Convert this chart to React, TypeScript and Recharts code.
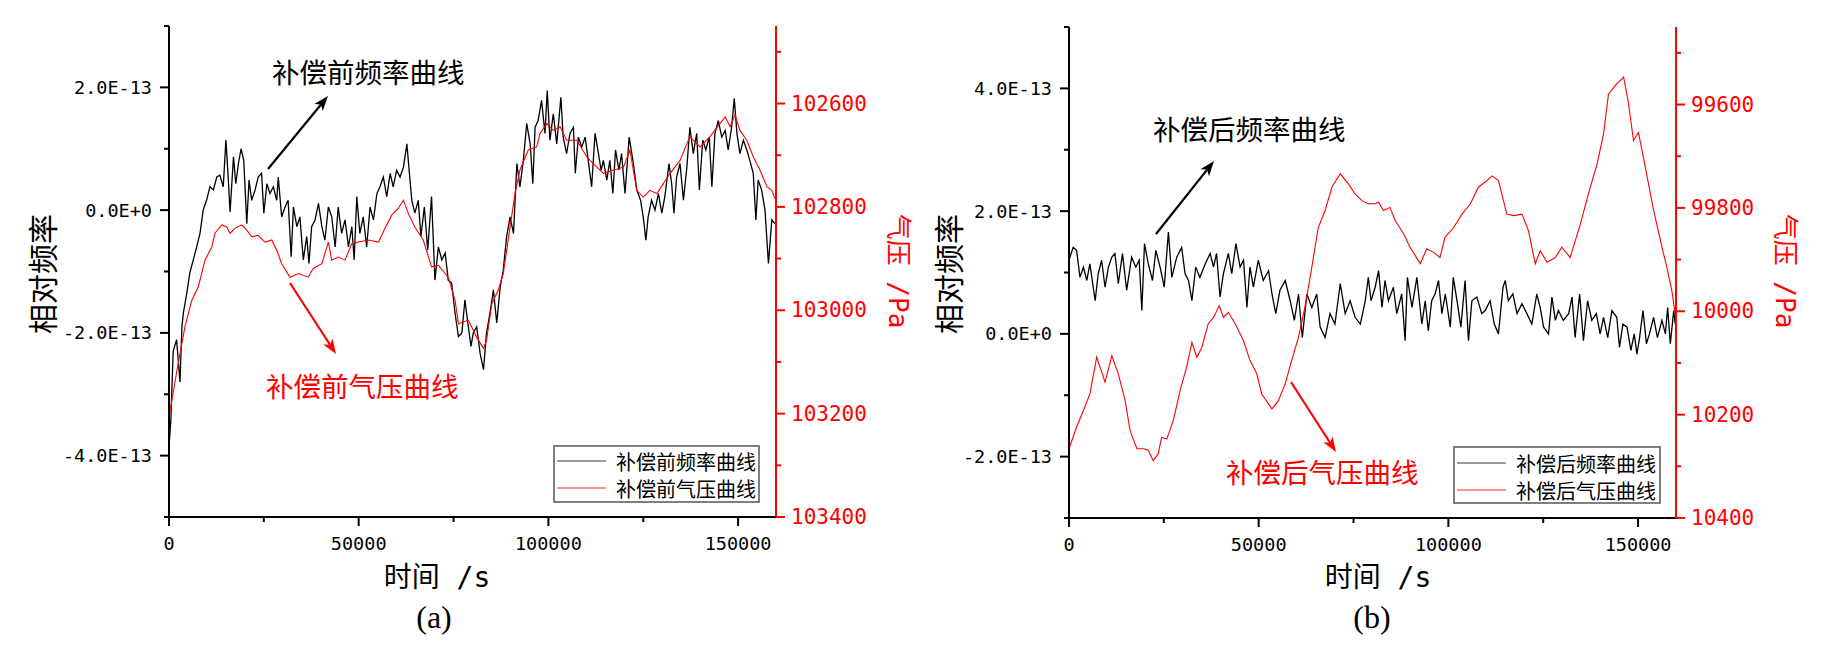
import React from 'react';
import { LineChart, Line, XAxis, YAxis } from 'recharts';

// ---------------- Data (panel a: before compensation) ----------------
const timeFreqA = [0, 500, 1100, 2000, 2900, 3400, 3800, 4700, 5500, 6400,
  7300, 8200, 9000, 9900, 10800, 11700, 12600, 13400, 14300, 15000,
  15600, 16100, 17000, 17600, 18300, 19000, 19700, 20500, 21100, 21800,
  22700, 23500, 24400, 25000, 25800, 26600, 27500, 28400, 28800, 29700,
  30600, 31400, 32200, 32800, 33700, 34500, 35400, 36300, 36900, 37600,
  38500, 39400, 40300, 41100, 42000, 42900, 43800, 44600, 45500, 46400,
  47300, 48200, 48800, 49500, 50300, 51200, 52100, 53000, 53900, 54800,
  55600, 56500, 57400, 58300, 59100, 60000, 60900, 61800, 62700, 63300,
  64000, 64800, 65700, 66400, 67300, 68200, 69200, 70100, 71000, 71900,
  72800, 73600, 74500, 75400, 76300, 77200, 78000, 78900, 79600, 80200,
  81100, 82000, 82900, 83700, 84600, 85500, 86400, 87300, 88100, 89000,
  89900, 90800, 91700, 92500, 93400, 94300, 95200, 95900, 96500, 97300,
  98200, 99100, 99700, 100400, 101300, 102200, 103300, 103900, 104800, 105700,
  106600, 107100, 107900, 108800, 109700, 110500, 111400, 112300, 113200, 113900,
  114500, 115400, 116200, 117000, 117700, 118600, 119300, 120200, 121300, 122400,
  123300, 124300, 125000, 125700, 126300, 127200, 128100, 129000, 129900, 130700,
  131800, 132500, 133100, 133800, 134700, 135600, 136500, 137300, 138200, 139100,
  139800, 140700, 141500, 142400, 143100, 143900, 144800, 145700, 146600, 147400,
  148300, 149000, 149700, 150500, 151400, 152300, 153100, 154000, 154700, 155300,
  156200, 157100, 158000, 158900, 159700];
// relative frequency, in units of 1E-13
const freqA = [-3.87, -3.4, -2.3, -2.11, -2.8, -1.9, -1.67, -1.35, -1.02, -0.81,
  -0.60, -0.37, 0.00, 0.16, 0.38, 0.33, 0.54, 0.57, 0.38, 1.14,
  0.54, -0.03, 0.87, 0.43, 0.76, 1.00, 0.81, -0.22, 0.49, 0.16,
  0.33, 0.54, 0.60, -0.05, 0.43, 0.27, 0.38, 0.16, 0.54, -0.11,
  0.05, 0.16, -0.76, 0.05, -0.27, -0.11, -0.81, -0.43, -0.87, -0.27,
  -0.16, 0.11, -0.27, -0.49, 0.05, -0.11, -0.60, 0.05, -0.38, -0.16,
  -0.60, -0.27, -0.81, 0.22, -0.38, -0.11, -0.60, 0.05, -0.16, 0.27,
  0.38, 0.54, 0.22, 0.60, 0.38, 0.65, 0.54, 0.70, 1.08, 0.65,
  0.16, -0.05, 0.16, -0.43, 0.05, -0.65, 0.22, -1.14, -0.60, -0.81,
  -0.70, -1.14, -1.19, -1.68, -2.06, -2.00, -1.46, -1.90, -2.22, -2.0,
  -1.90, -2.33, -2.60, -2.00, -1.68, -1.30, -1.84, -1.25, -0.98, -0.43,
  -0.11, -0.38, 0.76, 0.38, 0.81, 1.41, 1.08, 0.43, 1.35, 1.46,
  1.79, 1.25, 1.95, 1.14, 1.57, 1.08, 1.84, 1.19, 0.92, 1.25,
  1.35, 0.60, 1.19, 1.03, 1.19, 0.81, 0.38, 1.25, 0.92, 0.65,
  0.81, 0.49, 0.81, 0.27, 0.98, 0.65, 0.92, 0.27, 1.19, 0.76,
  0.33, 0.16, -0.11, -0.49, -0.11, 0.16, 0.00, 0.27, -0.05, 0.22,
  0.76, 0.43, -0.05, 0.54, 0.76, 0.16, 0.70, 1.35, 0.92, 1.25,
  0.33, 1.14, 0.98, 1.19, 0.38, 1.25, 1.46, 1.19, 1.30, 0.98,
  1.35, 1.82, 1.25, 0.92, 1.14, 0.98, 0.81, 0.60, -0.16, 0.49,
  0.33, 0.00, -0.87, -0.16, -0.22];

const timePressA = [0, 2100, 4200, 6000, 7700, 9500, 11300, 12100, 13900, 15200,
  16100, 17400, 19200, 20500, 21800, 23500, 25300, 27100, 28400, 29700,
  31900, 34100, 36700, 38000, 40300, 42000, 42900, 44600, 46400, 48200,
  49900, 52500, 55200, 56900, 58700, 60400, 61800, 63100, 64800, 67000,
  69200, 71000, 73600, 75400, 76300, 78900, 81100, 82900, 83700, 85100,
  86800, 88100, 89900, 91200, 92500, 94700, 96900, 97800, 99600, 101300,
  103100, 104800, 107500, 110100, 111800, 114500, 117100, 119800, 121500, 123300,
  125000, 126800, 128600, 130300, 132100, 134700, 137300, 140000, 142600, 145200,
  146600, 147900, 149200, 150500, 152300, 154000, 155800, 157600, 158900, 159700];
const pressA = [103207, 103116, 103032, 102981, 102955, 102903, 102877, 102851, 102835, 102839,
  102851, 102841, 102835, 102845, 102858, 102855, 102868, 102864, 102884, 102910,
  102936, 102929, 102936, 102919, 102910, 102868, 102903, 102897, 102903, 102871,
  102868, 102864, 102868, 102842, 102816, 102803, 102787, 102813, 102839, 102864,
  102916, 102913, 102936, 102981, 103026, 103019, 103052, 103074, 103058, 102987,
  102961, 102929, 102839, 102774, 102729, 102690, 102684, 102658, 102639, 102652,
  102645, 102671, 102671, 102703, 102716, 102735, 102729, 102723, 102690, 102768,
  102781, 102768, 102774, 102755, 102735, 102710, 102664, 102684, 102664, 102639,
  102626, 102645, 102622, 102652, 102671, 102703, 102729, 102761, 102768, 102784];

// ---------------- Data (panel b: after compensation) ----------------
const timeFreqB = [0, 1100, 2000, 2900, 3800, 4700, 5500, 6900, 7700, 8600,
  9500, 10400, 11300, 12100, 13000, 14100, 15200, 16500, 17600, 18500,
  19200, 19900, 20900, 22000, 22900, 24000, 25100, 26200, 27100, 28400,
  29700, 30600, 31500, 32400, 33400, 34500, 35900, 37200, 38100, 38900,
  39800, 40700, 42000, 42900, 44000, 45100, 46000, 46900, 47700, 48600,
  49900, 51200, 52600, 53500, 54500, 55600, 57000, 58300, 59400, 60500,
  61500, 62700, 64000, 65300, 66200, 67500, 68800, 70100, 71500, 72800,
  74100, 75400, 76800, 78100, 78900, 79600,
  80700, 81600, 82500, 83300, 84200, 85500, 86400, 87700, 88600, 89200,
  90400, 91700, 93000, 93900, 94700, 95600, 96500, 97400, 98300, 99200,
  100500, 101300, 102400, 103300, 104400, 105300, 106200, 107500, 108800, 109700,
  111000, 112100, 113200, 114400, 115000, 115800, 117000, 118100, 119400, 120700,
  122000, 123300, 124200, 125100, 126400, 127300, 128200, 129000, 130300, 131700,
  132600, 133400, 134600, 135600, 136700, 137800, 139000, 140000, 140900, 142000,
  143100, 144400, 145100, 146000, 147100, 148100, 149000, 149700, 150400, 151300,
  152200, 153000, 154100, 155100, 156300, 157200, 157800, 158500, 159400, 159800];
const freqB = [1.20, 1.41, 1.36, 0.92, 1.09, 0.87, 1.14, 0.54, 0.98, 1.20,
  0.76, 1.09, 1.25, 1.31, 0.82, 1.31, 0.71, 1.25, 1.09, 1.20,
  0.38, 1.47, 1.14, 0.87, 1.36, 1.09, 0.76, 1.66, 0.92, 1.25,
  1.41, 0.98, 0.87, 0.54, 1.09, 0.92, 1.14, 1.31, 1.09, 1.31,
  0.60, 0.98, 1.31, 0.98, 1.47, 1.09, 1.20, 0.43, 1.09, 0.76,
  1.20, 0.87, 1.03, 0.65, 0.33, 0.71, 0.87, 0.54, 0.22, 0.65,
  -0.06, 0.65, 0.43, 0.65, 0.11, -0.06, 0.33, 0.16, 0.82, 0.33,
  0.54, 0.27, 0.16, 0.54, 0.92, 0.54,
  0.76, 1.03, 0.43, 0.87, 0.54, 0.76, 0.33, 0.65, -0.11, 0.92,
  0.43, 0.92, 0.16, 0.54, 0.05, 0.54, 0.65, 0.87, 0.33, 0.65,
  0.11, 0.92, 0.49, 0.11, 0.87, -0.11, 0.54, 0.60, 0.33, 0.38,
  0.54, 0.16, 0.00, 0.76, 0.87, 0.54, 0.65, 0.33, 0.49, 0.33,
  0.16, 0.65, 0.43, 0.11, 0.00, 0.60, 0.22, 0.38, 0.22, 0.33,
  0.60, -0.06, 0.65, -0.11, 0.54, 0.22, 0.33, 0.00, 0.27, -0.06,
  0.38, 0.27, -0.22, 0.16, 0.11, -0.27, 0.00, -0.33, -0.06, 0.38,
  -0.16, 0.00, 0.27, -0.06, 0.22, 0.00, 0.43, -0.16, 0.38, 0.16];

const timePressB = [0, 2000, 3800, 5500, 7300, 9500, 11300, 13000, 14800, 16100,
  17900, 19600, 20900, 22200, 23500, 24400, 25800, 27500, 29300, 31000,
  32400, 33700, 35000, 36700, 38100, 39600, 40700, 42000, 43800, 46000,
  47700, 49500, 50800, 53500, 55200, 57000, 58700, 60500, 62200, 64000,
  65700, 67500, 69300, 71500, 73700, 75400, 77200, 78900, 80700, 81600,
  82900, 84600, 86000, 88200, 89900, 92600, 94300, 96100, 97800, 99100,
  101400, 103600, 105800, 107900, 109700, 111500, 113200, 115400, 117200, 119400,
  121100, 122900, 124200, 126000, 128200, 129900, 132100, 134800, 137400, 139200,
  140900, 142200, 144000, 146200, 147500, 148800, 150100, 151900, 154100, 156300,
  157600, 158900, 159800];
const pressB = [100266, 100224, 100192, 100160, 100089, 100137, 100086, 100121, 100173, 100231,
  100266, 100266, 100269, 100289, 100276, 100244, 100247, 100211, 100153, 100108,
  100060, 100089, 100070, 100024, 100012, 99989, 100012, 100002, 100024, 100057,
  100095, 100121, 100160, 100189, 100173, 100140, 100095, 100050, 99992, 99915,
  99838, 99805, 99760, 99734, 99754, 99773, 99786, 99792, 99792, 99789,
  99805, 99799, 99825, 99850, 99876, 99908, 99879, 99886, 99896, 99857,
  99838, 99812, 99792, 99760, 99750, 99738, 99747, 99812, 99815, 99812,
  99844, 99908, 99883, 99905, 99896, 99876, 99896, 99831, 99760, 99715,
  99657, 99580, 99563, 99547, 99599, 99670, 99654, 99721, 99805, 99876,
  99915, 99960, 100005];

// ---------------- Axis ticks & labels ----------------
const xTicks = [0, 25000, 50000, 75000, 100000, 125000, 150000];
const xMajor = [0, 50000, 100000, 150000];
const xLabels = ['0', '50000', '100000', '150000'];

const fTicksA = [-5, -4, -3, -2, -1, 0, 1, 2, 3];
const fMajorA = [-4, -2, 0, 2];
const fLabelsA = ['-4.0E-13', '-2.0E-13', '0.0E+0', '2.0E-13'];

const pTicksA = [102500, 102600, 102700, 102800, 102900, 103000, 103100, 103200, 103300, 103400];
const pMajorA = [102600, 102800, 103000, 103200, 103400];
const pLabelsA = ['102600', '102800', '103000', '103200', '103400'];

const fTicksB = [-3, -2, -1, 0, 1, 2, 3, 4, 5];
const fMajorB = [-2, 0, 2, 4];
const fLabelsB = ['-2.0E-13', '0.0E+0', '2.0E-13', '4.0E-13'];

const pTicksB = [99500, 99600, 99700, 99800, 99900, 100000, 100100, 100200, 100300, 100400];
const pMajorB = [99600, 99800, 100000, 100200, 100400];
const pLabelsB = ['99600', '99800', '10000', '10200', '10400'];

const zip = (ts: number[], vs: number[]) => ts.map((t, i) => ({ t, v: vs[i] }));

const MONO = "'DejaVu Sans Mono', monospace";
const CJK = "'Noto Sans CJK SC', 'Noto Sans', sans-serif";
const SERIF = "'Liberation Serif', 'Times New Roman', serif";
const RED = '#ff0000';

function makeTick(side: 'left' | 'right' | 'bottom', majors: number[], labels: string[], color: string, fontSize: number) {
  return (props: any) => {
    const { x, y, payload } = props;
    const idx = majors.indexOf(payload.value);
    const major = idx >= 0;
    const len = major ? 9 : 5;
    if (side === 'left') {
      return (
        <g>
          <line x1={x - len} y1={y} x2={x} y2={y} stroke={color} strokeWidth={2} />
          {major && (
            <text x={x - 17} y={y} textAnchor="end" dominantBaseline="central" fill={color} fontSize={fontSize} fontFamily={MONO}>
              {labels[idx]}
            </text>
          )}
        </g>
      );
    }
    if (side === 'right') {
      return (
        <g>
          <line x1={x} y1={y} x2={x + len} y2={y} stroke={color} strokeWidth={2} />
          {major && (
            <text x={x + 15} y={y} textAnchor="start" dominantBaseline="central" fill={color} fontSize={fontSize} fontFamily={MONO}>
              {labels[idx]}
            </text>
          )}
        </g>
      );
    }
    return (
      <g>
        <line x1={x} y1={y} x2={x} y2={y + len} stroke={color} strokeWidth={2} />
        {major && (
          <text x={x} y={y + 26} textAnchor="middle" dominantBaseline="central" fill={color} fontSize={fontSize} fontFamily={MONO}>
            {labels[idx]}
          </text>
        )}
      </g>
    );
  };
}

type PanelProps = {
  left: number; width: number; top: number; bottomAxisH: number; leftW: number; rightW: number;
  freq: { t: number; v: number }[]; press: { t: number; v: number }[];
  fDomain: [number, number]; fTicks: number[]; fMajor: number[]; fLabels: string[];
  pDomain: [number, number]; pTicks: number[]; pMajor: number[]; pLabels: string[];
};

function Panel(p: PanelProps) {
  return (
    <div style={{ position: 'absolute', left: p.left, top: 0 }}>
      <LineChart width={p.width} height={655} margin={{ top: p.top, right: 0, bottom: 0, left: 0 }}>
        <XAxis
          dataKey="t" type="number" domain={[0, 160000]} allowDataOverflow ticks={xTicks} interval={0}
          tickSize={0} tickMargin={0} height={p.bottomAxisH}
          axisLine={{ stroke: '#000', strokeWidth: 2 }} tickLine={false}
          tick={makeTick('bottom', xMajor, xLabels, '#000', 18.5)}
        />
        <YAxis
          yAxisId="f" orientation="left" type="number" domain={p.fDomain} allowDataOverflow ticks={p.fTicks} interval={0}
          tickSize={0} tickMargin={0} width={p.leftW}
          axisLine={{ stroke: '#000', strokeWidth: 2 }} tickLine={false}
          tick={makeTick('left', p.fMajor, p.fLabels, '#000', 18.5)}
        />
        <YAxis
          yAxisId="p" orientation="right" type="number" reversed domain={p.pDomain} allowDataOverflow ticks={p.pTicks} interval={0}
          tickSize={0} tickMargin={0} width={p.rightW}
          axisLine={{ stroke: RED, strokeWidth: 2 }} tickLine={false}
          tick={makeTick('right', p.pMajor, p.pLabels, RED, 21)}
        />
        <Line yAxisId="f" data={p.freq} dataKey="v" type="linear" stroke="#000" strokeWidth={1.3} dot={false} isAnimationActive={false} />
        <Line yAxisId="p" data={p.press} dataKey="v" type="linear" stroke={RED} strokeWidth={1.1} dot={false} isAnimationActive={false} />
      </LineChart>
    </div>
  );
}

function Arrow({ x1, y1, x2, y2, color }: { x1: number; y1: number; x2: number; y2: number; color: string }) {
  const dx = x2 - x1, dy = y2 - y1;
  const L = Math.hypot(dx, dy);
  const ux = dx / L, uy = dy / L;
  const hl = 15, hw = 5.5;
  const bx = x2 - ux * hl, by = y2 - uy * hl;
  const pts = `${x2},${y2} ${bx - uy * hw},${by + ux * hw} ${bx + ux * 4},${by + uy * 4} ${bx + uy * hw},${by - ux * hw}`;
  return (
    <g>
      <line x1={x1} y1={y1} x2={bx + ux * 4} y2={by + uy * 4} stroke={color} strokeWidth={2.2} />
      <polygon points={pts} fill={color} />
    </g>
  );
}

function Legend({ x, y, w, h, row1, row2, lineX1, lineX2, textX, y1, y2 }: any) {
  return (
    <g>
      <rect x={x} y={y} width={w} height={h} fill="#fff" stroke="#555" strokeWidth={1.5} />
      <line x1={lineX1} y1={y1} x2={lineX2} y2={y1} stroke="#777" strokeWidth={1.5} />
      <line x1={lineX1} y1={y2} x2={lineX2} y2={y2} stroke="#ff7070" strokeWidth={1.5} />
      <text x={textX} y={y1} dominantBaseline="central" fontSize={20} fontFamily={CJK} fill="#000">{row1}</text>
      <text x={textX} y={y2} dominantBaseline="central" fontSize={20} fontFamily={CJK} fill="#000">{row2}</text>
    </g>
  );
}

export default function App() {
  return (
    <div style={{ position: 'absolute', left: 0, top: 0, width: 1829, height: 655, background: '#fff', overflow: 'hidden' }}>
      <Panel
        left={0} width={910} top={26} bottomAxisH={138} leftW={169} rightW={134}
        freq={zip(timeFreqA, freqA)} press={zip(timePressA, pressA)}
        fDomain={[-5, 3]} fTicks={fTicksA} fMajor={fMajorA} fLabels={fLabelsA}
        pDomain={[102450, 103400]} pTicks={pTicksA} pMajor={pMajorA} pLabels={pLabelsA}
      />
      <Panel
        left={900} width={929} top={27} bottomAxisH={137} leftW={169} rightW={153}
        freq={zip(timeFreqB, freqB)} press={zip(timePressB, pressB)}
        fDomain={[-3, 5]} fTicks={fTicksB} fMajor={fMajorB} fLabels={fLabelsB}
        pDomain={[99450, 100400]} pTicks={pTicksB} pMajor={pMajorB} pLabels={pLabelsB}
      />
      <svg width={1829} height={655} style={{ position: 'absolute', left: 0, top: 0, pointerEvents: 'none' }}>
        {/* Panel (a) titles */}
        <text x={41} y={274} transform="rotate(-90 41 274)" textAnchor="middle" dominantBaseline="central" fontSize={30} fontFamily={CJK} fill="#000">相对频率</text>
        <text x={898} y={271} transform="rotate(90 898 271)" textAnchor="middle" dominantBaseline="central" fontSize={26} fontFamily={`${MONO}, ${CJK}`} fill={RED}>气压 /Pa</text>
        <text x={437} y={577} textAnchor="middle" dominantBaseline="central" fontSize={28} fontFamily={`${MONO}, ${CJK}`} fill="#000">时间 /s</text>
        <text x={434} y={617} textAnchor="middle" dominantBaseline="central" fontSize={32} fontFamily={SERIF} fill="#000">(a)</text>
        {/* Panel (b) titles */}
        <text x={947} y={274} transform="rotate(-90 947 274)" textAnchor="middle" dominantBaseline="central" fontSize={30} fontFamily={CJK} fill="#000">相对频率</text>
        <text x={1785} y={271} transform="rotate(90 1785 271)" textAnchor="middle" dominantBaseline="central" fontSize={26} fontFamily={`${MONO}, ${CJK}`} fill={RED}>气压 /Pa</text>
        <text x={1378} y={577} textAnchor="middle" dominantBaseline="central" fontSize={28} fontFamily={`${MONO}, ${CJK}`} fill="#000">时间 /s</text>
        <text x={1372} y={617} textAnchor="middle" dominantBaseline="central" fontSize={32} fontFamily={SERIF} fill="#000">(b)</text>

        {/* Annotations (a) */}
        <text x={272} y={71} dominantBaseline="central" fontSize={27.5} fontFamily={CJK} fill="#000">补偿前频率曲线</text>
        <Arrow x1={268} y1={169} x2={328} y2={96} color="#000" />
        <text x={266} y={385} dominantBaseline="central" fontSize={27.5} fontFamily={CJK} fill={RED}>补偿前气压曲线</text>
        <Arrow x1={290} y1={283} x2={336} y2={354} color={RED} />

        {/* Annotations (b) */}
        <text x={1153} y={128} dominantBaseline="central" fontSize={27.5} fontFamily={CJK} fill="#000">补偿后频率曲线</text>
        <Arrow x1={1156} y1={234} x2={1214} y2={161} color="#000" />
        <text x={1226} y={471} dominantBaseline="central" fontSize={27.5} fontFamily={CJK} fill={RED}>补偿后气压曲线</text>
        <Arrow x1={1291} y1={382} x2={1336} y2={452} color={RED} />

        {/* Legends */}
        <Legend x={554} y={446} w={205} h={56} row1="补偿前频率曲线" row2="补偿前气压曲线"
          lineX1={557} lineX2={606} textX={616} y1={461} y2={488} />
        <Legend x={1454} y={447} w={206} h={56} row1="补偿后频率曲线" row2="补偿后气压曲线"
          lineX1={1457} lineX2={1506} textX={1516} y1={463} y2={490} />
      </svg>
    </div>
  );
}
